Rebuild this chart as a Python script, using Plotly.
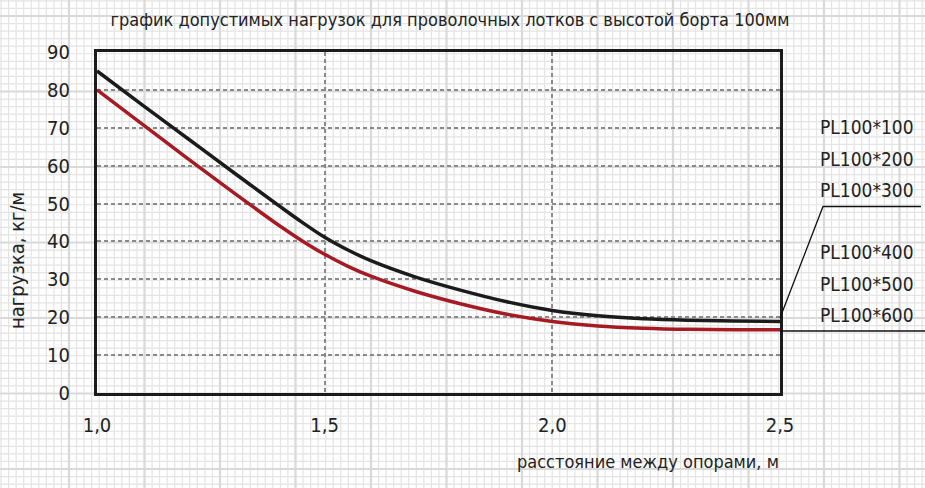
import plotly.graph_objects as go

# Span between supports, m
span_m = [1.0, 1.1, 1.2, 1.3, 1.4, 1.45, 1.5, 1.55, 1.6, 1.7, 1.8, 1.9, 2.0, 2.1, 2.2, 2.3, 2.4, 2.5]
# Permissible load, kg/m
load_upper = [85, 76, 67.1, 58.2, 49.4, 45.1, 41.1, 37.8, 35.0, 30.6, 27.1, 24.1, 21.8, 20.4, 19.6, 19.2, 19.0, 18.9]
load_lower = [80, 70.9, 61.8, 52.9, 44.2, 40.2, 36.6, 33.5, 30.9, 26.8, 23.5, 20.8, 18.9, 17.7, 17.1, 16.8, 16.7, 16.7]

x_tick_vals = [1.0, 1.5, 2.0, 2.5]
x_tick_text = ["1,0", "1,5", "2,0", "2,5"]
y_tick_vals = [0, 10, 20, 30, 40, 50, 60, 70, 80, 90]

upper_labels = ["PL100*100", "PL100*200", "PL100*300"]
lower_labels = ["PL100*400", "PL100*500", "PL100*600"]

W, H = 925, 488
L, R, T, B = 97, 145, 52, 95
PW, PH = W - L - R, H - T - B

FONT = "Liberation Sans Narrow, DejaVu Sans Condensed, Arial Narrow, sans-serif"
TXT = "#222222"


def px(x):
    return (x - L) / PW


def py(y):
    return (H - B - y) / PH


# graph-paper background
def grid_path(start_x, start_y, step):
    parts = []
    x = start_x
    while x <= W + 1:
        parts.append(f"M{px(x):.5f},{py(-2):.5f}L{px(x):.5f},{py(H + 2):.5f}")
        x += step
    y = start_y
    while y <= H + 1:
        parts.append(f"M{px(-2):.5f},{py(y):.5f}L{px(W + 2):.5f},{py(y):.5f}")
        y += step
    return "".join(parts)


MAJOR = 75.5
MINOR = MAJOR / 10
shapes = [
    dict(type="path", xref="paper", yref="paper", layer="below",
         path=grid_path(69 - 9 * MINOR, 469 - 62 * MINOR, MINOR),
         line=dict(color="#e4e4e4", width=1.2)),
    dict(type="path", xref="paper", yref="paper", layer="below",
         path=grid_path(69 - MAJOR, 469 - 7 * MAJOR, MAJOR),
         line=dict(color="#d9d9d9", width=2.2)),
    # leader lines to the label groups
    dict(type="path", xref="paper", yref="paper", layer="above",
         path=f"M{px(780):.5f},{py(318):.5f}L{px(823):.5f},{py(206.5):.5f}L{px(921):.5f},{py(206.5):.5f}",
         line=dict(color="#111111", width=1.3)),
    dict(type="line", xref="paper", yref="paper", layer="above",
         x0=px(780), y0=py(331), x1=px(W + 2), y1=py(331),
         line=dict(color="#111111", width=1.5)),
]

fig = go.Figure()
fig.add_trace(go.Scatter(x=span_m, y=load_lower, mode="lines",
                         line=dict(color="#a51b23", width=3.5, shape="spline", smoothing=1.0),
                         hoverinfo="skip", showlegend=False))
fig.add_trace(go.Scatter(x=span_m, y=load_upper, mode="lines",
                         line=dict(color="#1b1b1b", width=3.5, shape="spline", smoothing=1.0),
                         hoverinfo="skip", showlegend=False))

annotations = []
for i, t in enumerate(upper_labels):
    annotations.append(dict(text=t, x=px(916), y=py(127 + i * 31.6), xref="paper", yref="paper",
                            xanchor="right", yanchor="middle", showarrow=False,
                            font=dict(family=FONT, size=19, color=TXT)))
for i, t in enumerate(lower_labels):
    annotations.append(dict(text=t, x=px(916), y=py(252 + i * 31.6), xref="paper", yref="paper",
                            xanchor="right", yanchor="middle", showarrow=False,
                            font=dict(family=FONT, size=19, color=TXT)))
annotations.append(dict(text="расстояние между опорами, м", x=px(781), y=py(461),
                        xref="paper", yref="paper", xanchor="right", yanchor="middle",
                        showarrow=False, font=dict(family=FONT, size=18, color=TXT)))
annotations.append(dict(text="нагрузка, кг/м", x=px(17), y=py(261), textangle=-90,
                        xref="paper", yref="paper", xanchor="center", yanchor="middle",
                        showarrow=False, font=dict(family=FONT, size=20, color=TXT)))

fig.update_layout(
    width=W, height=H,
    margin=dict(l=L, r=R, t=T, b=B),
    paper_bgcolor="white",
    plot_bgcolor="rgba(0,0,0,0)",
    shapes=shapes,
    annotations=annotations,
    title=dict(text="график допустимых нагрузок для проволочных лотков с высотой борта 100мм",
               x=450 / W, y=1 - 20 / H, xref="container", yref="container",
               xanchor="center", yanchor="middle",
               font=dict(family=FONT, size=18, color=TXT)),
    font=dict(family=FONT, color=TXT),
)

fig.update_xaxes(range=[1.0, 2.5], tickvals=x_tick_vals, ticktext=x_tick_text,
                 showline=True, mirror=True, linecolor="#1b1b1b", linewidth=3,
                 showgrid=True, gridcolor="#8a8a8a", gridwidth=1.5, griddash="4px,3px",
                 zeroline=False, ticks="", ticklabelstandoff=12,
                 tickfont=dict(family=FONT, size=20, color=TXT))
fig.update_yaxes(range=[0, 90], tickvals=y_tick_vals,
                 showline=True, mirror=True, linecolor="#1b1b1b", linewidth=3,
                 showgrid=True, gridcolor="#8a8a8a", gridwidth=1.5, griddash="4px,3px",
                 zeroline=False, ticks="", ticklabelstandoff=20,
                 tickfont=dict(family=FONT, size=20, color=TXT))

fig.write_html("out.html")
